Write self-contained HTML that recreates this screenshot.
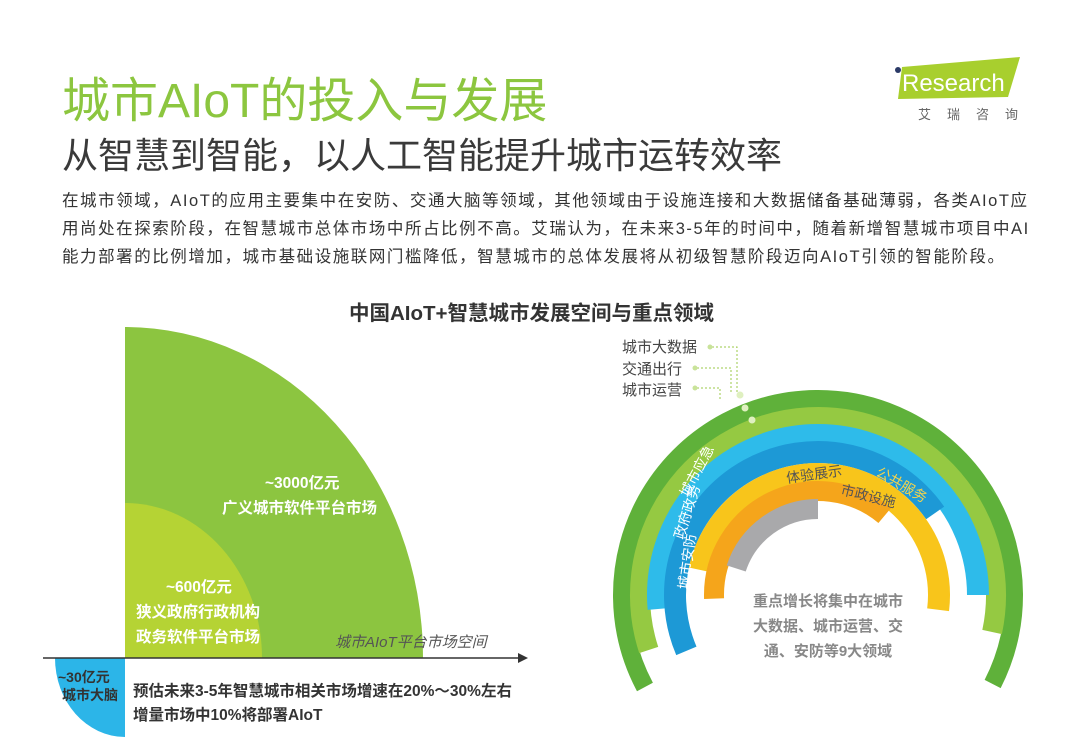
<!DOCTYPE html>
<html><head><meta charset="utf-8"><style>
body{margin:0;width:1080px;height:746px;background:#fff;overflow:hidden;font-family:"Liberation Sans","Noto Sans CJK SC",sans-serif;position:relative}
.a{position:absolute;white-space:nowrap}
</style></head><body>
<div class="a" style="left:62px;top:61px;font-size:48px;color:#8cc63f">城市AIoT的投入与发展</div>
<div class="a" style="left:62px;top:127px;font-size:36px;color:#3a3a3a">从智慧到智能，以人工智能提升城市运转效率</div>
<div class="a" style="left:62px;top:187px;font-size:16.5px;letter-spacing:1.55px;line-height:28px;color:#333">在城市领域，AIoT的应用主要集中在安防、交通大脑等领域，其他领域由于设施连接和大数据储备基础薄弱，各类AIoT应<br>用尚处在探索阶段，在智慧城市总体市场中所占比例不高。艾瑞认为，在未来3-5年的时间中，随着新增智慧城市项目中AI<br>能力部署的比例增加，城市基础设施联网门槛降低，智慧城市的总体发展将从初级智慧阶段迈向AIoT引领的智能阶段。</div>
<div class="a" style="left:349px;top:296px;font-size:20.5px;font-weight:bold;color:#333">中国AIoT+智慧城市发展空间与重点领域</div>
<svg class="a" style="left:890px;top:55px" width="140" height="70">
<polygon points="12,12 130,2 118,42 8,44" fill="#a8cf2e"/>
<circle cx="8" cy="15" r="3" fill="#2b3a67"/>
<text x="12" y="36" font-size="24" fill="#fff" font-family="Liberation Sans">Research</text>
<text x="28" y="64" font-size="13" fill="#666" letter-spacing="16">艾瑞咨询</text>
</svg>
<svg class="a" style="left:0;top:0" width="1080" height="746">
<path d="M125,658 L125,327 A298,331 0 0 1 423,658 Z" fill="#8cc540"/>
<path d="M125,658 L125,503 A137,155 0 0 1 262,658 Z" fill="#b5d334"/>
<path d="M125,658 L55,658 A70,79 0 0 0 125,737 Z" fill="#2cb5e8"/>
<line x1="43" y1="658" x2="520" y2="658" stroke="#333" stroke-width="1.5"/>
<polygon points="528,658 518,653 518,663" fill="#333"/>
<g font-weight="bold" fill="#fff" font-size="15.5">
<text x="265" y="488">~3000亿元</text>
<text x="222" y="513">广义城市软件平台市场</text>
<text x="166" y="592">~600亿元</text>
<text x="136" y="617">狭义政府行政机构</text>
<text x="136" y="642">政务软件平台市场</text>
<text x="58" y="682" fill="#333" font-size="14">~30亿元</text>
<text x="62" y="700" fill="#333" font-size="14">城市大脑</text>
</g>
<text x="335" y="647" font-size="15" fill="#555" font-style="italic">城市AIoT平台市场空间</text>
<text x="133" y="696" font-size="15.5" font-weight="bold" fill="#333">预估未来3-5年智慧城市相关市场增速在20%～30%左右</text>
<text x="133" y="720" font-size="15.5" font-weight="bold" fill="#333">增量市场中10%将部署AIoT</text>
<g id="arcs"></g>
<g font-size="15" fill="#444">
<text x="622" y="352">城市大数据</text>
<text x="622" y="374">交通出行</text>
<text x="622" y="395">城市运营</text>
</g>
<g stroke="#9bc94a" stroke-dasharray="2,2" fill="none" stroke-width="1">
<path d="M712,347 H737 V392"/><path d="M697,368 H731 V392"/><path d="M697,388 H720 V400"/>
</g>
<g fill="#c9e39a"><circle cx="710" cy="347" r="2.5"/><circle cx="695" cy="368" r="2.5"/><circle cx="695" cy="388" r="2.5"/>
<circle cx="740" cy="395" r="3.5" fill="#dff0c0"/><circle cx="745" cy="408" r="3.5" fill="#dff0c0"/><circle cx="752" cy="420" r="3.5" fill="#dff0c0"/></g>
<g font-size="14" fill="#fff">
<text transform="translate(688,498) rotate(-62)">城市应急</text>
<text transform="translate(683,540) rotate(-72)">政府政务</text>
<text transform="translate(688,590) rotate(-82)">城市安防</text>
<text transform="translate(787,483) rotate(-8)" fill="#555">体验展示</text>
<text transform="translate(840,494) rotate(14)" fill="#555">市政设施</text>
<text transform="translate(875,475) rotate(30)" fill="#f7d44a">公共服务</text>
</g>
<g font-size="15" font-weight="bold" fill="#888" text-anchor="middle">
<text x="828" y="606">重点增长将集中在城市</text>
<text x="828" y="631">大数据、城市运营、交</text>
<text x="828" y="656">通、安防等9大领域</text>
</g>
</svg>
<script>
var cx=818,cy=595,g=document.getElementById('arcs');
function arc(r,w,a1,a2,c){
 function p(a){var t=(180-a)*Math.PI/180;return [cx+r*Math.cos(t),cy-r*Math.sin(t)];}
 var s=p(a1),e=p(a2),large=(a2-a1)>180?1:0;
 var el=document.createElementNS('http://www.w3.org/2000/svg','path');
 el.setAttribute('d','M'+s[0]+','+s[1]+' A'+r+','+r+' 0 '+large+' 1 '+e[0]+','+e[1]);
 el.setAttribute('stroke',c);el.setAttribute('stroke-width',w);el.setAttribute('fill','none');g.appendChild(el);}
arc(196,18,-28,207,'#5fb13a');
arc(178,20,-18,192,'#95c942');
arc(160,22,-5,180,'#2ebbea');
arc(143,22,-23,145,'#1d99d6');
arc(121,22,12,187,'#f8c51b');
arc(104,20,-2,130,'#f5a51b');
arc(86,20,18,90,'#a9a9ab');
</script>
</body></html>
